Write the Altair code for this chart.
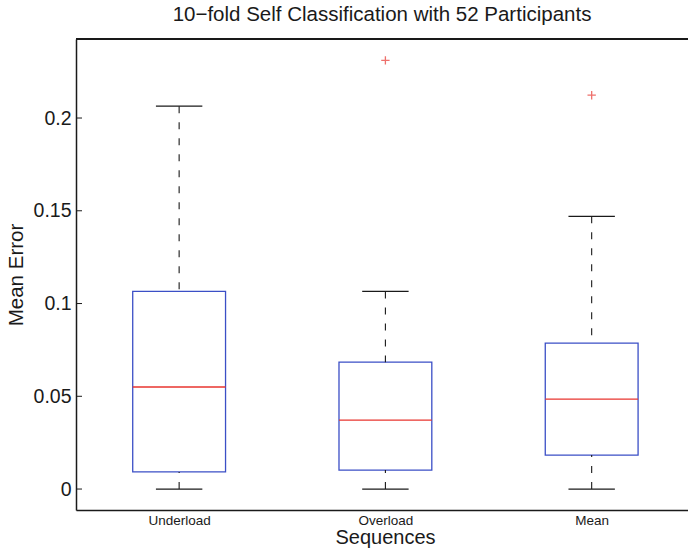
import altair as alt
import pandas as pd

# ---- values ----
categories = ["Underload", "Overload", "Mean"]
lower_whisker = [0.0, 0.0, 0.0]
q1 = [0.0092, 0.0102, 0.0183]
median = [0.0550, 0.0372, 0.0485]
q3 = [0.1065, 0.0684, 0.0787]
upper_whisker = [0.2064, 0.1065, 0.1470]
outlier_category = ["Overload", "Mean"]
outlier_value = [0.2311, 0.2123]
y_ticks = [0, 0.05, 0.1, 0.15, 0.2]

FONT = "Liberation Sans"
BLUE = "#3b4fc6"
RED = "#e8352f"
INK = "#1a1a1a"

box_df = pd.DataFrame({
    "category": categories,
    "pos": list(range(1, len(categories) + 1)),
    "lo": lower_whisker,
    "q1": q1,
    "med": median,
    "q3": q3,
    "hi": upper_whisker,
})
out_df = pd.DataFrame({
    "category": outlier_category,
    "pos": [categories.index(c) + 1 for c in outlier_category],
    "value": outlier_value,
})
tick_df = pd.DataFrame({"tick": y_ticks})

xscale = alt.Scale(domain=[0.5, 3.467], nice=False, zero=False)
yscale = alt.Scale(domain=[-0.0113, 0.2426], nice=False, zero=False)

label_expr = " : ".join(
    [f"datum.value == {i + 1} ? '{c}'" for i, c in enumerate(categories)]
) + " : ''"

base = alt.Chart(box_df).transform_calculate(
    xl="datum.pos - 0.225",
    xr="datum.pos + 0.225",
    cl="datum.pos - 0.1125",
    cr="datum.pos + 0.1125",
)

boxes = base.mark_rect(fill="white", fillOpacity=0, stroke=BLUE, strokeWidth=1.3).encode(
    x=alt.X("xl:Q", scale=xscale, axis=alt.Axis(
        orient="bottom", values=[1, 2, 3], labelExpr=label_expr, ticks=False,
        grid=False, title="Sequences", labelFontSize=13.5, labelPadding=3,
        titleFontSize=20, titleBaseline="alphabetic", titleY=33, titleX=309,
        labelColor=INK, titleColor=INK,
        domainColor=INK, domainWidth=1.5, titleFontWeight="normal",
        labelFont=FONT, titleFont=FONT)),
    x2="xr:Q",
    y=alt.Y("q1:Q", scale=yscale, axis=alt.Axis(
        orient="left", values=y_ticks, format="~g", ticks=False, grid=False,
        title="Mean Error", labelFontSize=19.5, labelPadding=5, titleFontSize=20.5,
        titleBaseline="alphabetic", titleX=-54, titleY=235.5,
        labelColor=INK, titleColor=INK, domainColor=INK,
        domainWidth=1.5, titleFontWeight="normal", labelFont=FONT, titleFont=FONT)),
    y2="q3:Q",
)

medians = base.mark_rule(color=RED, strokeWidth=1.3).encode(
    x=alt.X("xl:Q", scale=xscale),
    x2="xr:Q",
    y=alt.Y("med:Q", scale=yscale),
)

upper_w = base.mark_rule(color=INK, strokeWidth=1.1, strokeDash=[7, 9]).encode(
    x=alt.X("pos:Q", scale=xscale),
    y=alt.Y("hi:Q", scale=yscale), y2="q3:Q")
lower_w = base.mark_rule(color=INK, strokeWidth=1.1, strokeDash=[7, 9]).encode(
    x=alt.X("pos:Q", scale=xscale),
    y=alt.Y("lo:Q", scale=yscale), y2="q1:Q")

upper_cap = base.mark_rule(color=INK, strokeWidth=1.3).encode(
    x=alt.X("cl:Q", scale=xscale), x2="cr:Q",
    y=alt.Y("hi:Q", scale=yscale))
lower_cap = base.mark_rule(color=INK, strokeWidth=1.3).encode(
    x=alt.X("cl:Q", scale=xscale), x2="cr:Q",
    y=alt.Y("lo:Q", scale=yscale))

outliers = alt.Chart(out_df).mark_point(
    shape="M-1,0L1,0M0,-1L0,1", filled=False, stroke=RED, strokeWidth=1.3, size=70
).encode(
    x=alt.X("pos:Q", scale=xscale),
    y=alt.Y("value:Q", scale=yscale),
)

inner_ticks = alt.Chart(tick_df).mark_rule(color=INK, strokeWidth=1).encode(
    x=alt.value(0), x2=alt.value(6), y=alt.Y("tick:Q", scale=yscale))

top_border = alt.Chart(tick_df).mark_rule(color=INK, strokeWidth=1.5).encode(
    x=alt.value(0), x2=alt.value(612), y=alt.value(0))

chart = alt.layer(
    boxes, upper_w, lower_w, upper_cap, lower_cap, medians, outliers, inner_ticks,
    top_border
).properties(
    width=612,
    height=471,
    autosize=alt.AutoSizeParams(type="none"),
    padding={"left": 76, "top": 39, "right": 0, "bottom": 39},
    title=alt.TitleParams(
        "10\u2212fold Self Classification with 52 Participants",
        fontSize=20.5, font=FONT, fontWeight="normal", color=INK, offset=13,
        anchor="middle"),
).configure_view(stroke=None).configure(background="white")

chart.save("out.html", embed_options={"renderer": "svg", "actions": False})
